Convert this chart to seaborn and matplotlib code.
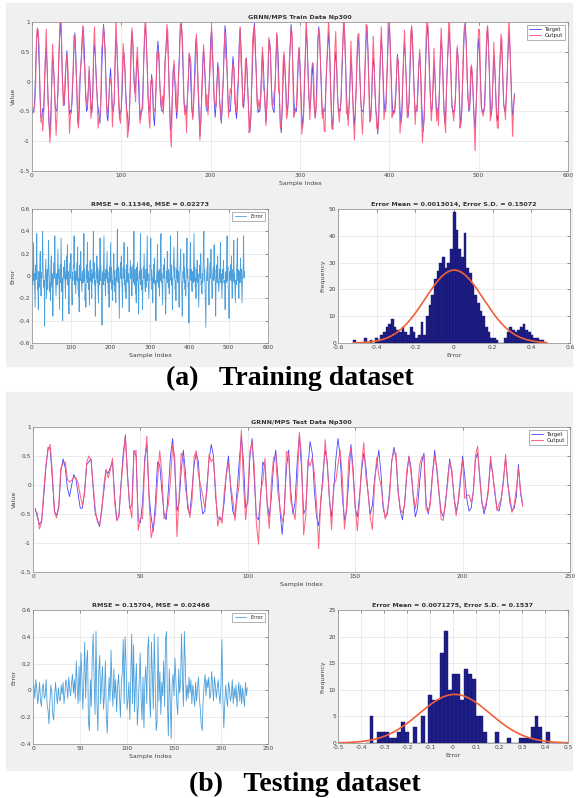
import numpy as np
import pandas as pd
import matplotlib
matplotlib.use("Agg")
import matplotlib.pyplot as plt
import seaborn as sns
from matplotlib.patches import Rectangle

# ---------------- data (values in hundredths) ----------------
train_target_pct = [
    -48,-52,-30,20,66,90,72,30,-20,-58,-62,-45,-50,-12,40,58,22,-30,-70,-88,
    -60,-10,45,30,-8,-42,-50,-46,-20,35,78,100,64,10,-25,-40,-15,28,52,18,
    -28,-55,-48,-52,-30,12,55,82,48,-6,-62,-76,-44,8,36,70,92,76,30,-22,
    -50,-46,-12,18,-6,-38,-52,-20,44,62,40,6,-30,-44,-56,-70,-38,15,60,96,
    80,42,-10,-58,-66,-30,5,22,-12,-48,-50,-34,30,72,60,18,-26,-62,-50,-48,
    -10,38,48,20,-20,-46,-58,-82,-60,-4,52,84,62,14,-18,-8,26,40,10,-36,
    -64,-48,-50,-24,30,74,96,70,24,-30,-52,-40,-6,12,-20,-56,-74,-46,2,48,
    68,44,0,-36,-48,-50,-46,-10,34,58,86,64,18,-40,-82,-70,-30,20,28,-4,
    -40,-62,-38,6,54,90,100,72,20,-28,-50,-48,-52,-30,10,46,30,-14,-48,-60,
    -36,10,60,76,40,-16,-58,-92,-66,-18,30,56,34,-8,-44,-50,-48,-20,26,70,
    88,56,6,-34,-60,-40,0,32,14,-30,-58,-70,-44,2,50,94,80,36,-14,-52,
    -48,-50,-24,16,42,22,-18,-50,-62,-40,6,64,90,58,8,-36,-44,-20,18,40,
    10,-32,-60,-84,-58,-10,40,78,98,60,14,-30,-52,-48,-50,-26,22,52,30,-12,
    -46,-68,-40,4,50,70,44,-4,-40,-48,-52,-14,36,80,62,22,-30,-72,-86,-50,
    0,44,30,-8,-42,-50,-30,18,60,96,74,26,-24,-54,-46,-50,-18,34,56,28,
    -16,-54,-76,-52,-8,44,88,66,20,-28,-48,-30,10,28,-10,-46,-60,-40,12,66,
    92,70,28,-22,-56,-48,-50,-46,-12,30,54,82,60,10,-42,-80,-64,-20,30,50,
    24,-20,-52,-46,-50,-26,20,62,100,78,34,-18,-50,-64,-42,0,38,18,-24,-56,
    -72,-48,-4,42,76,58,14,-30,-50,-48,-52,-20,30,68,92,56,4,-44,-66,-40,
    8,40,24,-16,-50,-58,-88,-62,-12,40,74,52,10,-30,-50,-44,-10,36,84,98,
    62,18,-30,-56,-48,-52,-34,6,46,30,-10,-48,-70,-52,-6,42,66,40,-4,-46,
    -60,-36,8,56,90,70,24,-26,-52,-48,-50,-18,28,48,20,-24,-62,-84,-56,-8,
    46,78,94,62,16,-30,-50,-44,-6,30,12,-28,-54,-46,-50,-22,36,70,54,8,
    -38,-70,-58,-14,32,62,86,58,10,-34,-52,-48,-50,-30,16,56,40,-4,-48,-74,
    -52,-6,46,88,100,66,18,-28,-50,-46,-8,26,10,-32,-62,-80,-50,-2,50,72,
    48,2,-40,-52,-48,-50,-22,24,64,92,60,12,-34,-58,-42,4,42,26,-18,-54,
    -66,-44,0,40,70,50,8,-36,-50,-48,-24,18,56,84,58,14,-32,-56,-46,-20,
]
train_error_pct = [
    5,-8,12,30,-4,2,-15,-28,6,10,-3,38,8,-12,-6,-30,4,2,-10,14,
    22,-5,-18,3,-2,8,40,12,-6,-10,-4,-45,-8,5,15,-3,-20,2,6,-12,
    4,32,10,-2,-14,-6,-22,8,18,-4,-10,2,-36,-8,4,12,-2,36,6,-5,
    -18,-4,2,-8,10,24,-2,6,-12,-30,4,10,-6,34,8,-14,-2,-40,-6,3,
    8,-2,14,-5,-20,2,6,18,-3,28,-8,4,-10,-34,-4,6,12,-2,20,-6,
    -14,-26,3,-4,10,8,36,-2,-8,4,-16,-6,2,12,-4,26,-8,-18,-2,-32,
    6,10,-4,22,-2,-8,-14,4,2,-6,12,38,-4,6,-22,-8,-28,4,10,-2,
    30,-6,4,-12,-2,-26,8,14,-4,6,-10,-20,2,-6,8,40,-2,12,-8,-4,
    -36,-10,4,-2,18,-6,8,-14,-24,2,6,-8,34,-4,10,-2,-12,-44,-6,4,
    -8,12,36,-4,2,-10,-18,6,-2,10,22,-6,4,-16,-2,-28,8,-4,14,30,
    -6,8,-12,-4,-22,2,6,20,-8,4,-14,-2,-24,6,-4,10,42,-2,-6,8,
    -18,-38,-4,6,12,-2,18,-6,-10,-28,4,8,-2,30,-8,6,-14,-4,-20,2,
    10,-4,26,-6,2,-12,-32,-8,4,14,-2,8,-6,-18,-4,2,10,-6,40,4,
    -8,6,-16,-2,-24,8,-4,12,2,-10,-34,-6,4,-2,14,38,-8,6,-12,-4,
    -30,-6,8,-2,20,4,-8,-14,-2,6,-10,16,36,-4,2,-8,-20,-6,-2,10,
    8,34,-4,6,-12,-2,-24,4,10,-6,16,-2,-8,-4,-40,-10,2,8,28,-6,
    4,-10,-2,-18,6,-4,30,38,-6,2,-12,-26,-4,8,10,-2,16,-6,-22,-34,
    -8,4,-2,22,-6,6,-10,-4,-16,2,8,36,-4,10,-8,-2,-30,-6,4,12,
    26,-2,8,-12,-4,-22,6,-2,14,40,-6,4,-8,-28,-2,6,10,24,-4,-6,
    -16,-36,-8,4,-2,20,-6,8,-12,-4,-18,2,10,34,-2,6,-10,-6,-42,-4,
    2,12,30,-4,6,-8,-14,-2,4,-6,18,38,-4,8,-10,-2,-20,6,-4,14,
    -6,2,-12,-28,-4,6,10,-2,20,-8,-4,-16,2,-6,8,28,40,-4,6,-10,
    -24,-46,-6,2,8,-4,16,-2,-10,-26,-4,6,12,-2,24,-6,-8,-20,-2,4,
    8,-4,28,-2,6,-12,-36,-4,2,10,-6,18,-2,-8,-14,-4,6,-2,30,-6,
    2,-8,-20,-4,6,-2,14,-6,-4,-10,-30,-2,4,-6,12,36,-4,8,-12,-16,
    -38,-6,4,-2,10,-4,18,-8,-20,-2,6,-4,32,-6,2,-10,-24,-4,-8,6,
    12,34,-4,6,-10,-20,-2,4,-6,16,-2,6,-8,-24,-4,2,10,36,-2,4,
]
test_target_pct = [
    -40,-55,-68,-62,-20,30,65,62,10,-45,-52,-40,25,45,30,-5,-20,0,18,10,
    -15,-40,-40,-10,35,40,45,-5,-50,-60,-72,-40,-10,25,20,30,40,-20,-60,-55,
    5,55,85,20,-40,-35,60,50,-60,-65,-30,45,70,-15,-55,-80,-30,40,35,-10,
    -50,-60,-10,50,80,30,-45,-30,25,60,20,-40,-50,-10,35,55,40,-20,-50,-45,
    0,45,70,50,-20,-55,-60,-58,-30,20,50,-5,-45,-55,-10,40,85,40,-40,-30,
    50,80,10,-55,-60,-20,40,30,-30,-55,-20,35,60,15,-45,-85,-40,30,60,-10,
    -50,-30,40,85,30,-50,-40,30,75,55,-10,-55,-70,-30,20,60,40,-25,-55,-10,
    45,80,50,-20,-60,-45,10,70,30,-40,-55,-20,25,55,30,-15,-50,-35,10,35,
    60,20,-40,-55,-50,-10,40,65,45,-10,-45,-60,-30,15,50,30,-20,-55,-40,5,
    40,55,-30,-50,-25,20,60,25,-15,-45,-55,-35,10,45,20,-20,-45,-30,5,50,
    15,-25,-45,-40,-10,45,55,15,-30,-50,-35,-5,40,20,-15,-40,-45,-25,10,45,
    5,-30,-45,-40,-20,35,-15,-35,
]
test_error_pct = [
    4,-6,8,2,-10,-4,6,-8,-12,2,5,-6,-4,8,-10,-15,-25,-8,4,-2,
    -18,-22,-5,6,-4,-10,2,-6,-8,4,-3,6,-10,-2,8,4,-6,10,2,-4,
    6,12,-2,8,-6,22,4,-10,18,-8,28,10,-14,6,36,-6,20,30,-24,-30,
    8,-12,24,42,10,-18,44,-8,-30,14,26,-10,6,18,-14,-4,22,-20,-32,-6,
    10,-8,30,4,-12,16,-6,8,-16,2,12,-4,-20,6,14,38,-10,40,20,-14,
    -8,6,-22,12,42,-10,34,-16,4,20,-26,-12,8,28,-6,-22,10,-28,6,18,
    -10,30,40,-6,-20,36,12,-14,42,8,-30,-24,40,-8,14,-18,6,-4,22,-12,
    38,44,-10,-34,16,-8,-36,6,12,-4,24,8,-10,-18,16,-2,6,42,10,-12,
    44,20,-8,4,-6,10,-2,8,-10,4,-4,-12,6,-8,2,10,-6,-14,-26,-30,
    -8,4,12,-4,8,2,10,-6,-4,14,6,-8,10,4,-6,2,8,-4,-10,6,
    38,-6,-28,-10,4,-6,-12,6,2,-8,-4,8,-10,2,-6,4,-12,-2,6,-8,
    4,-10,2,-6,-12,6,-4,2,
]

# histogram bin counts
train_hist_lo, train_hist_hi = -0.52, 0.48
train_hist_counts = [
    1,0,0,0,2,0,1,0,2,1, 3,4,6,7,9,6,5,4,6,4,
    3,6,4,2,3,8,3,10,14,18, 24,27,30,32,28,30,35,49,42,35,
    32,41,28,26,22,18,15,12,10,6, 4,2,2,1,0,0,2,4,6,5,
    4,5,6,7,5,4,3,2,2,1,1,0,
]
test_hist_lo, test_hist_hi = -0.38, 0.44
test_hist_counts = [
    0,5,0,2,2,2,1,1,2,4, 2,0,3,0,5,0,9,8,8,17,
    21,10,13,13,8,14,13,12,5,5, 2,0,0,2,0,0,1,0,0,1,
    1,1,3,5,3,0,2,0,
]

train_title = "GRNN/MPS Train Data Np300"
test_title = "GRNN/MPS Test Data Np300"
train_err_title = "RMSE = 0.11346, MSE = 0.02273"
test_err_title = "RMSE = 0.15704, MSE = 0.02466"
train_err_mean, train_err_sd = 0.0013014, 0.15072
test_err_mean, test_err_sd = 0.0071275, 0.1537

# ---------------- figure ----------------
W, H = 576, 798
sns.set_theme(style="white")
plt.rcParams["font.family"] = ["DejaVu Sans"]
fig = plt.figure(figsize=(W / 100, H / 100), dpi=100)
fig.patch.set_facecolor("white")

def box(l, t, r, b):
    return [l / W, 1 - b / H, (r - l) / W, (b - t) / H]

# grey MATLAB figure backgrounds behind each panel
for (t, b) in [(3, 366), (392, 770)]:
    fig.patches.append(Rectangle((6 / W, 1 - b / H), 566 / W, (b - t) / H,
                                 transform=fig.transFigure, color="#f0f0f0", zorder=-10))

FS = 4.2
def style(ax):
    ax.set_facecolor("white")
    ax.grid(True, color="#e4e4e4", lw=0.5)
    ax.tick_params(direction="in", length=2, width=0.4, labelsize=FS, pad=1.5,
                   colors="#444444", top=True, right=True)
    for s in ax.spines.values():
        s.set_color("#8a8a8a")
        s.set_linewidth(0.5)

def fmt(v):
    return f"{v:g}"

def series_plot(ax, target_pct, error_pct, title, xmax, xstep):
    target = np.array(target_pct) / 100
    error = np.array(error_pct) / 100
    df = pd.DataFrame({"idx": np.arange(1, len(target) + 1), "Target": target,
                       "Output": target - error})
    sns.lineplot(data=df, x="idx", y="Target", ax=ax, color="#4444ff", lw=0.6,
                 label="Target", estimator=None)
    sns.lineplot(data=df, x="idx", y="Output", ax=ax, color="#ff5577", lw=0.75,
                 alpha=0.9, label="Output", estimator=None)
    ax.set_xlim(0, xmax)
    ax.set_ylim(-1.5, 1)
    ax.set_xticks(np.arange(0, xmax + 1, xstep))
    yt = [-1.5, -1, -0.5, 0, 0.5, 1]
    ax.set_yticks(yt)
    ax.set_yticklabels([fmt(v) for v in yt])
    ax.set_title(title, fontsize=FS + 0.4, fontweight="bold", pad=2, color="#333333")
    ax.set_xlabel("Sample Index", fontsize=FS + 0.3, labelpad=2, color="#444444")
    ax.set_ylabel("Value", fontsize=FS + 0.3, labelpad=2, color="#444444")
    leg = ax.legend(loc="upper right", fontsize=FS - 0.4, frameon=True, fancybox=False,
                    handlelength=2.2, borderpad=0.4, labelspacing=0.3)
    leg.get_frame().set_linewidth(0.4)
    leg.get_frame().set_edgecolor("#555555")
    style(ax)

def error_plot(ax, error_pct, title, xmax, xstep, ylo, yhi):
    error = np.array(error_pct) / 100
    df = pd.DataFrame({"idx": np.arange(1, len(error) + 1), "Error": error})
    sns.lineplot(data=df, x="idx", y="Error", ax=ax, color="#4a9fdc", lw=0.6,
                 label="Error", estimator=None)
    ax.set_xlim(0, xmax)
    ax.set_ylim(ylo, yhi)
    ax.set_xticks(np.arange(0, xmax + 1, xstep))
    yt = np.round(np.arange(ylo, yhi + 0.01, 0.2), 1)
    ax.set_yticks(yt)
    ax.set_yticklabels([fmt(v) for v in yt])
    ax.set_title(title, fontsize=FS + 0.4, fontweight="bold", pad=2, color="#333333")
    ax.set_xlabel("Sample Index", fontsize=FS + 0.3, labelpad=2, color="#444444")
    ax.set_ylabel("Error", fontsize=FS + 0.3, labelpad=2, color="#444444")
    leg = ax.legend(loc="upper right", fontsize=FS - 0.4, frameon=True, fancybox=False,
                    handlelength=2.2, borderpad=0.4)
    leg.get_frame().set_linewidth(0.4)
    leg.get_frame().set_edgecolor("#555555")
    style(ax)

def hist_plot(ax, counts, lo, hi, mean, sd, xlim, xstep, ymax, ystep, curve_range):
    counts = np.array(counts)
    nb = len(counts)
    bw = (hi - lo) / nb
    centers = lo + bw * (np.arange(nb) + 0.5)
    sns.histplot(x=centers, weights=counts, bins=nb, binrange=(lo, hi), ax=ax,
                 color="#1e1e88", edgecolor="#141466", linewidth=0.3, alpha=1)
    xs = np.linspace(curve_range[0], curve_range[1], 200)
    fit = counts.sum() * bw * np.exp(-0.5 * ((xs - mean) / sd) ** 2) / (sd * np.sqrt(2 * np.pi))
    sns.lineplot(x=xs, y=fit, ax=ax, color="#f0603a", lw=1.2)
    ax.set_xlim(*xlim)
    ax.set_ylim(0, ymax)
    xt = np.round(np.arange(xlim[0], xlim[1] + 1e-6, xstep), 1)
    ax.set_xticks(xt)
    ax.set_xticklabels([fmt(v) for v in xt])
    ax.set_yticks(np.arange(0, ymax + 1, ystep))
    ax.set_title(f"Error Mean = {mean:.7g}, Error S.D. = {sd:g}", fontsize=FS + 0.4,
                 fontweight="bold", pad=2, color="#333333")
    ax.set_xlabel("Error", fontsize=FS + 0.3, labelpad=2, color="#444444")
    ax.set_ylabel("Frequency", fontsize=FS + 0.3, labelpad=2, color="#444444")
    style(ax)

# (a) training
ax = fig.add_axes(box(32, 22, 568, 171))
series_plot(ax, train_target_pct, train_error_pct, train_title, 600, 100)
ax = fig.add_axes(box(32, 209, 268, 343))
error_plot(ax, train_error_pct, train_err_title, 600, 100, -0.6, 0.6)
ax = fig.add_axes(box(338, 209, 570, 343))
hist_plot(ax, train_hist_counts, train_hist_lo, train_hist_hi, train_err_mean, train_err_sd,
          (-0.6, 0.6), 0.2, 50, 10, (train_hist_lo, train_hist_hi))

# (b) testing
ax = fig.add_axes(box(33, 427, 570, 572))
series_plot(ax, test_target_pct, test_error_pct, test_title, 250, 50)
ax = fig.add_axes(box(33, 610, 268, 744))
error_plot(ax, test_error_pct, test_err_title, 250, 50, -0.4, 0.6)
ax = fig.add_axes(box(338, 610, 568, 743))
hist_plot(ax, test_hist_counts, test_hist_lo, test_hist_hi, test_err_mean, test_err_sd,
          (-0.5, 0.5), 0.1, 25, 5, (-0.5, 0.5))

cap = dict(fontsize=20, fontweight="bold", family=["Liberation Serif", "DejaVu Serif"],
           ha="center", va="center", color="black")
fig.text(290 / W, 1 - 378 / H, "(a)   Training dataset", **cap)
fig.text(305 / W, 1 - 784 / H, "(b)   Testing dataset", **cap)

fig.savefig("out.png", dpi=100)
